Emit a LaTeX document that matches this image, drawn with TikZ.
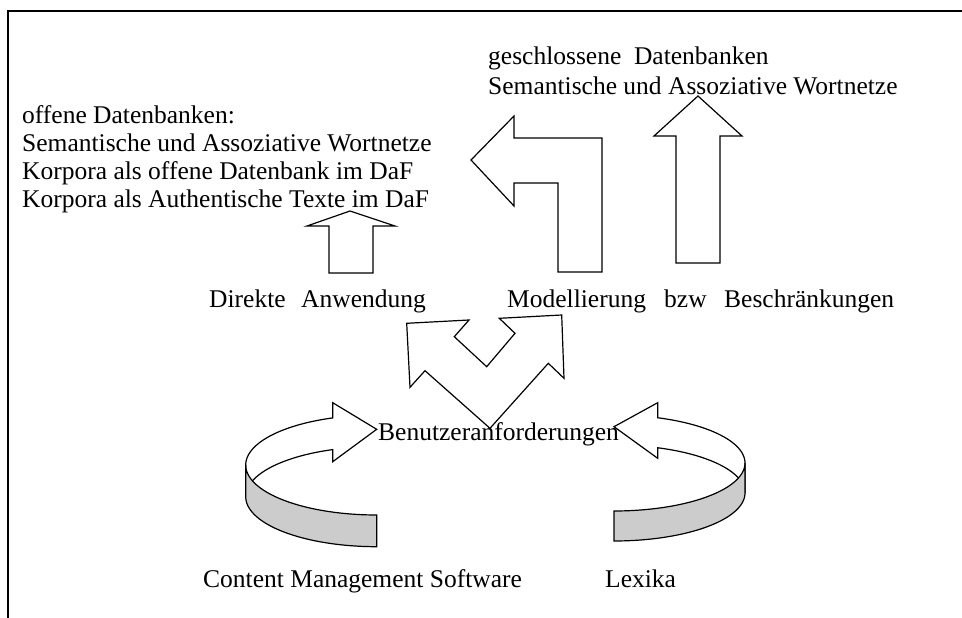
\documentclass[tikz,border=0pt]{standalone}
\usepackage{fontspec}
\setmainfont{Liberation Serif}
\definecolor{bandgray}{RGB}{204,204,204}
\begin{document}
\begin{tikzpicture}[x=1pt,y=-1pt,
  lbl/.style={font=\fontsize{25.5}{28.5}\selectfont, inner sep=0pt, anchor=base west},
  blockarrow/.style={draw=black, line width=1.2pt, line join=miter, fill=white},
  ribbon/.style={draw=black, line width=1.2pt, line join=miter, fill=bandgray}]
\useasboundingbox (0,0) rectangle (962,618);

% open frame: top and left edges
\draw[line width=1.2pt] (8,618) -- (8,11) -- (962,11);

% straight block arrows
\draw[blockarrow] (350,211) -- (395,226) -- (373,226) -- (373,273)
  -- (329,273) -- (329,226) -- (307,226) -- cycle;
\draw[blockarrow] (698,96) -- (742,136) -- (720,136) -- (720,263)
  -- (676,263) -- (676,136) -- (654,136) -- cycle;
% bent arrow turning left
\draw[blockarrow] (471,160) -- (514,116) -- (514,138) -- (602,138)
  -- (602,272) -- (558,272) -- (558,183) -- (514,183) -- (514,206) -- cycle;
% forked arrow pointing up-left and up-right
\draw[blockarrow] (406.7,323.3) -- (469,320) -- (454.3,336.7) -- (486.7,366.7)
  -- (515,333.3) -- (499.3,318.3) -- (561.7,315) -- (564,378.3)
  -- (548.3,363.3) -- (490,428.3) -- (425,370.7) -- (410,387.3) -- cycle;

% left curved ribbon arrow (centre 376.7/465, radii 131/50, height 31.7)
\draw[blockarrow]
  plot[domain=180:250.4, samples=40, variable=\t]
    ({376.7+131*cos(\t)}, {465+50*sin(\t)})
  -- (332.7,402.7) -- (376.7,429.3) -- (332.7,461.7)
  -- plot[domain=250.4:180, samples=40, variable=\t]
    ({376.7+131*cos(\t)}, {496.7+50*sin(\t)})
  -- cycle;
\draw[ribbon]
  plot[domain=180:90, samples=40, variable=\t]
    ({376.7+131*cos(\t)}, {465+50*sin(\t)})
  -- plot[domain=90:180, samples=40, variable=\t]
    ({376.7+131*cos(\t)}, {496.7+50*sin(\t)})
  -- cycle;

% right curved ribbon arrow (centre 614/463, radii 131/48, height 30)
\draw[blockarrow]
  plot[domain=360:289.5, samples=40, variable=\t]
    ({614+131*cos(\t)}, {463+48*sin(\t)})
  -- (657.7,402.7) -- (614,426.7) -- (657.7,458.3)
  -- plot[domain=289.5:360, samples=40, variable=\t]
    ({614+131*cos(\t)}, {493+48*sin(\t)})
  -- cycle;
\draw[ribbon]
  plot[domain=0:90, samples=40, variable=\t]
    ({614+131*cos(\t)}, {463+48*sin(\t)})
  -- plot[domain=90:0, samples=40, variable=\t]
    ({614+131*cos(\t)}, {493+48*sin(\t)})
  -- cycle;

% labels
\node[lbl] (offen)  at (22,123) {offene Datenbanken:};
\node[lbl] (offen2) at (22,151) {Semantische und Assoziative Wortnetze};
\node[lbl] (offen3) at (22,179) {Korpora als offene Datenbank im DaF};
\node[lbl] (offen4) at (22,207) {Korpora als Authentische Texte im DaF};

\node[lbl] (geschl)  at (488,65) {geschlossene\ \ Datenbanken};
\node[lbl] (geschl2) at (488,95) {Semantische und Assoziative Wortnetze};

\node[lbl] (direkt) at (209,307) {Direkte};
\node[lbl] (anwend) at (301,307) {Anwendung};
\node[lbl] (model)  at (507,307) {Modellierung};
\node[lbl] (bzw)    at (664,307) {bzw};
\node[lbl] (beschr) at (724,307) {Beschränkungen};

\node[lbl] (benutzer) at (378,440) {Benutzeranforderungen};

\node[lbl] (cms)    at (203,587) {Content Management Software};
\node[lbl] (lexika) at (605,587) {Lexika};
\end{tikzpicture}
\end{document}
